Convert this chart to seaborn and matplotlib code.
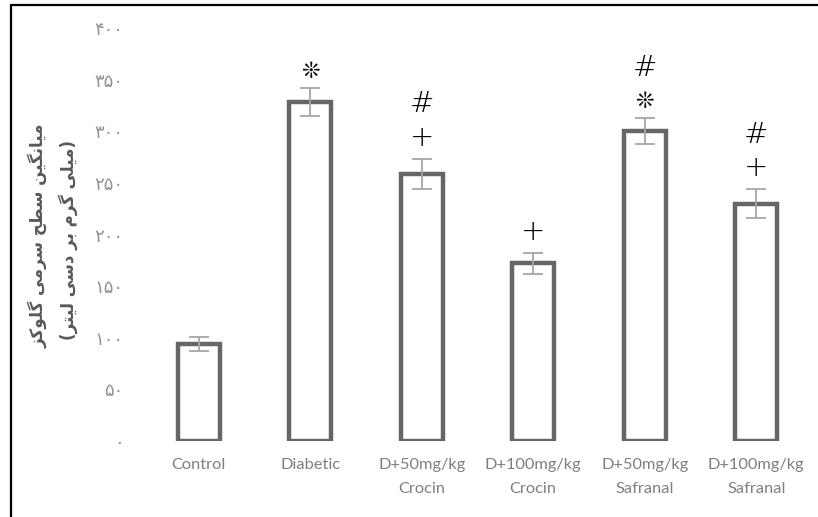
import matplotlib
matplotlib.use("Agg")
import matplotlib.pyplot as plt
import seaborn as sns
import pandas as pd
from matplotlib.lines import Line2D
from matplotlib import font_manager
from matplotlib.ft2font import FT2Font

# ---- data -------------------------------------------------------------
groups = ["Control", "Diabetic", "D+50mg/kg\nCrocin", "D+100mg/kg\nCrocin",
          "D+50mg/kg\nSafranal", "D+100mg/kg\nSafranal"]
glucose_mean = [94, 328, 259, 172, 300, 230]
glucose_sem = [7, 13.5, 14.5, 10, 12.5, 14]
# significance symbols stacked above each bar (bottom -> top); "*" = vs control
sig_marks = [[], ["*"], ["+", "#"], ["+"], ["*", "#"], ["+", "#"]]
y_ticks = [0, 50, 100, 150, 200, 250, 300, 350, 400]

ylabel_line1 = "میانگین سطح سرمی گلوکز"
ylabel_line2 = "(میلی گرم بر دسی لیتر)"


# ---- pick a flower-asterisk glyph from an installed family ------------
def find_glyph(candidates, families):
    for fam in families:
        try:
            path = font_manager.findfont(
                font_manager.FontProperties(family=fam), fallback_to_default=False)
        except Exception:
            continue
        font = FT2Font(path)
        for ch in candidates:
            if font.get_char_index(ord(ch)) != 0:
                return ch, fam
    return "*", "DejaVu Sans"


STAR, STAR_FAMILY = find_glyph(
    ["❊", "✽", "❋", "✼", "✺", "❁", "✻", "※"],
    ["DejaVu Sans", "Noto Sans", "Noto Sans CJK JP", "Noto Sans CJK SC",
     "Liberation Sans", "Open Sans", "Roboto", "Lato", "Inter"])

# ---- minimal Persian shaping (presentation forms + visual order) ------
FORMS = {
    'ا': ('\uFE8D', '\uFE8E', None, None),
    'ب': ('\uFE8F', '\uFE90', '\uFE91', '\uFE92'),
    'ت': ('\uFE95', '\uFE96', '\uFE97', '\uFE98'),
    'ح': ('\uFEA1', '\uFEA2', '\uFEA3', '\uFEA4'),
    'د': ('\uFEA9', '\uFEAA', None, None),
    'ر': ('\uFEAD', '\uFEAE', None, None),
    'ز': ('\uFEAF', '\uFEB0', None, None),
    'س': ('\uFEB1', '\uFEB2', '\uFEB3', '\uFEB4'),
    'ط': ('\uFEC1', '\uFEC2', '\uFEC3', '\uFEC4'),
    'ل': ('\uFEDD', '\uFEDE', '\uFEDF', '\uFEE0'),
    'م': ('\uFEE1', '\uFEE2', '\uFEE3', '\uFEE4'),
    'ن': ('\uFEE5', '\uFEE6', '\uFEE7', '\uFEE8'),
    'و': ('\uFEED', '\uFEEE', None, None),
    'ی': ('\uFBFC', '\uFBFD', '\uFBFE', '\uFBFF'),
    'گ': ('\uFB92', '\uFB93', '\uFB94', '\uFB95'),
    'ک': ('\uFB8E', '\uFB8F', '\uFB90', '\uFB91'),
}


def shape_rtl(text):
    out = []
    n = len(text)
    for i, ch in enumerate(text):
        if ch not in FORMS:
            out.append(ch)
            continue
        iso, fin, ini, med = FORMS[ch]
        prev = text[i - 1] if i > 0 else None
        nxt = text[i + 1] if i < n - 1 else None
        join_prev = prev in FORMS and FORMS[prev][2] is not None
        join_next = ini is not None and nxt in FORMS
        if join_prev and join_next:
            out.append(med)
        elif join_prev:
            out.append(fin)
        elif join_next:
            out.append(ini)
        else:
            out.append(iso)
    vis = "".join(reversed(out))
    return vis.translate(str.maketrans("()", ")("))


def persian_digits(v):
    return str(v).translate(str.maketrans("0123456789", "۰۱۲۳۴۵۶۷۸۹"))


# ---- figure -----------------------------------------------------------
sns.set_theme(style="white")
plt.rcParams["font.family"] = ["DejaVu Sans"]

W, H = 818, 517
fig = plt.figure(figsize=(W / 100, H / 100), dpi=100)
ax = fig.add_axes([143 / W, 1 - 441 / H, (812 - 143) / W, (441 - 28) / H])

df = pd.DataFrame({"group": groups, "glucose": glucose_mean})
sns.barplot(data=df, x="group", y="glucose", ax=ax, color="white",
            edgecolor="#666666", linewidth=3.2, width=0.375, errorbar=None)
for p in ax.patches:
    p.set_facecolor("white")

xs = list(range(len(groups)))
ax.errorbar(xs, glucose_mean, yerr=glucose_sem, fmt="none",
            ecolor="#a6a6a6", elinewidth=1.3, capsize=7, capthick=1.3, zorder=5)

# significance symbols
for x, m, e, marks in zip(xs, glucose_mean, glucose_sem, sig_marks):
    off = 0
    for k, s in enumerate(marks):
        if s == "*":
            off += 12 if k == 0 else 22
            ax.annotate(STAR, xy=(x, m + e), xytext=(0, off),
                        textcoords="offset points", ha="center", va="center",
                        fontsize=16, color="#111111", fontweight="bold",
                        family=[STAR_FAMILY, "DejaVu Sans"])
        else:
            off += 15 if k == 0 else 24
            ax.annotate(s, xy=(x, m + e), xytext=(0, off),
                        textcoords="offset points", ha="center", va="center",
                        fontsize=21, color="black", family="DejaVu Sans",
                        fontweight="light")

ax.set_ylim(0, 400)
ax.set_xlim(-0.5, len(groups) - 0.5)
ax.set_yticks(y_ticks)
ax.set_yticklabels([persian_digits(v) for v in y_ticks], color="#939393", fontsize=13)
ax.set_xticks(xs)
ax.set_xticklabels(groups, color="#7f7f7f", fontsize=11.8, family="Lato",
                   linespacing=1.95)
ax.tick_params(axis="y", length=0, pad=14)
ax.tick_params(axis="x", length=0, pad=12)
ax.set_xlabel("")
ax.set_ylabel("")
for sp in ax.spines.values():
    sp.set_visible(False)

# rotated two-line y-axis title
fig.text(38 / W, 1 - 236 / H, shape_rtl(ylabel_line1), rotation=90,
         ha="center", va="center", fontsize=12, fontweight="bold", color="#595959")
fig.text(68 / W, 1 - 240 / H, shape_rtl(ylabel_line2), rotation=90,
         ha="center", va="center", fontsize=12, fontweight="bold", color="#595959")

# outer frame (top and left edges)
fig.add_artist(Line2D([10.5 / W, 1.0], [1 - 5 / H, 1 - 5 / H],
                      transform=fig.transFigure, color="black", linewidth=1.6))
fig.add_artist(Line2D([10.5 / W, 10.5 / W], [0.0, 1 - 5 / H],
                      transform=fig.transFigure, color="black", linewidth=1.6))

fig.savefig("out.png", dpi=100)
